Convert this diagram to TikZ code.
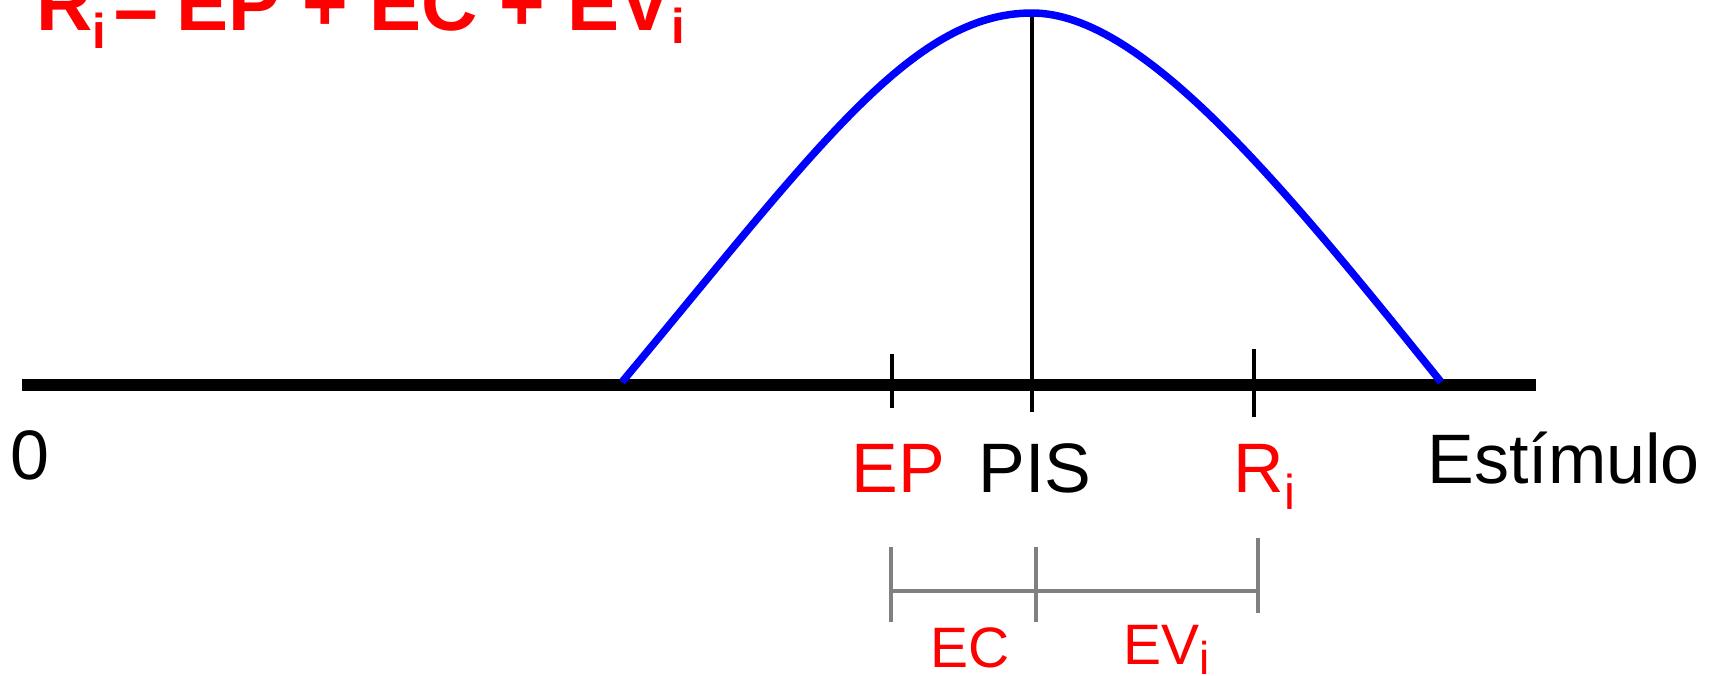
\documentclass[tikz,border=0pt]{standalone}
\usepackage{fontspec}
\setmainfont{Liberation Sans}
\definecolor{fred}{RGB}{255,0,0}
\definecolor{fblue}{RGB}{0,0,255}
\definecolor{fgray}{RGB}{128,128,128}
\newcommand\lowsub[3]{\raisebox{-#1pt}{\fontsize{#2}{#2}\selectfont #3}}
\tikzset{
  lbl/.style={anchor=base west, inner sep=0pt, outer sep=0pt},
  big/.style={font=\fontsize{70}{84}\selectfont},
  tick/.style={line width=4.5pt, black},
  brk/.style={line width=4pt, fgray},
}
\begin{document}
\begin{tikzpicture}[x=1pt, y=-1pt]
\useasboundingbox (0,0) rectangle (1718,675);
\clip (0,0) rectangle (1718,675);
\fill[white] (0,0) rectangle (1718,675);
% formula
\node[lbl, text=fred, font=\fontsize{78}{90}\selectfont\bfseries] (formula) at (36,30)
  {R\lowsub{18}{49}{i}\hspace{8pt}=\hspace{17.5pt}EP + EC + EV\lowsub{13}{49}{i}};
% axis
\coordinate (axL) at (22,385);
\coordinate (axR) at (1536,385);
\draw[line width=12pt, black] (axL) -- (axR);
% ticks
\coordinate (epT) at (892,354); \coordinate (epB) at (892,408);
\coordinate (pisT) at (1032,13); \coordinate (pisB) at (1032,412);
\coordinate (riT) at (1254,349); \coordinate (riB) at (1254,417);
\draw[tick] (epT) -- (epB);
\draw[tick] (pisT) -- (pisB);
\draw[tick] (riT) -- (riB);
% curve
\coordinate (cL) at (622,382);
\coordinate (cTop) at (1032,13);
\coordinate (cR) at (1441,382);
\draw[fblue, line width=7.5pt]
  (cL) .. controls (817,148) and (912,13) .. (cTop)
       .. controls (1142,13) and (1281,183) .. (cR);
% labels
\node[lbl, big, text=black] (zero) at (10,479) {0};
\node[lbl, big, text=fred] (ep) at (851.5,492) {EP};
\node[lbl, big, text=black] (pis) at (978.6,492) {PIS};
\node[lbl, big, text=fred] (ri) at (1233.6,492) {R\lowsub{17}{49}{i}};
\node[lbl, big, text=black] (est) at (1427.5,483) {Estímulo};
% bracket
\coordinate (bL) at (891,591); \coordinate (bM) at (1036,591); \coordinate (bR) at (1258,591);
\draw[brk] (891,547) -- (891,622);
\draw[brk] (1036,547) -- (1036,622);
\draw[brk] (1258,538) -- (1258,613);
\draw[brk] (bL) -- (bR);
\node[lbl, text=fred, font=\fontsize{57}{68}\selectfont] (ec) at (930.5,667) {EC};
\node[lbl, text=fred, font=\fontsize{57}{68}\selectfont] (ev) at (1123.5,664) {EV\lowsub{10}{46}{i}};
\end{tikzpicture}
\end{document}
